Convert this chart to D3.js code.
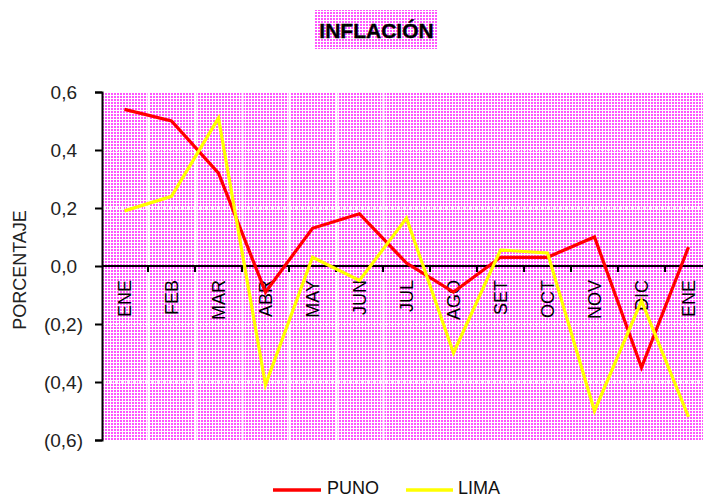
<!DOCTYPE html>
<html><head><meta charset="utf-8">
<script src="https://cdn.jsdelivr.net/npm/d3@7"></script>
<style>body{margin:0;background:#fff}svg{display:block}text{font-family:"Liberation Sans",Arial,sans-serif}</style>
</head><body>
<script>
const months = ["ENE","FEB","MAR","ABR","MAY","JUN","JUL","AGO","SET","OCT","NOV","DIC","ENE"];
const puno = [0.54,0.50,0.32,-0.09,0.13,0.18,0.01,-0.09,0.03,0.03,0.10,-0.35,0.065];
const lima = [0.19,0.24,0.51,-0.41,0.03,-0.05,0.165,-0.30,0.055,0.045,-0.50,-0.12,-0.52];
const yTicks = [-0.6,-0.4,-0.2,0,0.2,0.4,0.6];
const seriesNames = ["PUNO","LIMA"];
const seriesColors = ["#ff0000","#ffff00"];

(function(){
const W=703,H=500;
const svg=d3.select("body").append("svg").attr("width",W).attr("height",H);
const defs=svg.append("defs");
const pat=defs.append("pattern").attr("id","dots").attr("patternUnits","userSpaceOnUse").attr("width",3).attr("height",3);
pat.append("rect").attr("width",3).attr("height",3).attr("fill","#ffffff");
pat.append("rect").attr("width",2).attr("height",2).attr("fill","#ff55ff");

const pl=102, pt=92, pb=440;
const idx=months.map((d,i)=>i);
const x=d3.scaleBand().domain(idx).range([pl-1,pl-1+13*47]);
const y=d3.scaleLinear().domain([-0.6,0.6]).range([pb,pt]);

// title
svg.append("rect").attr("x",315).attr("y",10).attr("width",123).attr("height",39).attr("fill","url(#dots)");
svg.append("text").attr("x",376.5).attr("y",38).attr("text-anchor","middle").attr("font-size",21).attr("font-weight","bold").attr("fill","#000").attr("stroke","#000").attr("stroke-width",0.4).text("INFLACIÓN");

// plot area
svg.append("rect").attr("x",pl+1).attr("y",pt).attr("width",W-pl-1).attr("height",pb-pt).attr("fill","url(#dots)");

// white gridlines (horizontal)
svg.append("g").selectAll("line").data(yTicks.filter(v=>v!==0&&Math.abs(v)<0.6)).join("line")
  .attr("x1",pl+1).attr("x2",W).attr("y1",d=>y(d)).attr("y2",d=>y(d))
  .attr("stroke","#fff").attr("stroke-width",2).attr("stroke-dasharray","3,3").attr("opacity",0.85);
// white vertical separators
svg.append("g").selectAll("line").data(idx.slice(1,7)).join("line")
  .attr("x1",d=>x(d)+0.5).attr("x2",d=>x(d)+0.5).attr("y1",pt).attr("y2",pb)
  .attr("stroke","#fff").attr("stroke-width",2);

// y axis
const ya=svg.append("g").attr("transform",`translate(${pl},0)`)
  .call(d3.axisLeft(y).tickValues(yTicks).tickSize(7).tickPadding(0)
    .tickFormat(d=>{const s=Math.abs(d).toFixed(1).replace(".",",");return d<0?"("+s+")":s;}));
ya.select(".domain").attr("stroke","#000").attr("stroke-width",2);
ya.selectAll(".tick line").attr("stroke","#000").attr("stroke-width",2);
ya.selectAll(".tick text").attr("font-size",19).attr("fill","#222")
  .attr("font-family","Liberation Sans, Arial, sans-serif")
  .attr("x",d=>d<0?-19:-25).attr("dy","0.36em");

// zero axis with ticks
const xa=svg.append("g").attr("transform",`translate(0,${y(0)})`)
  .call(d3.axisBottom(x).tickSize(0).tickFormat(d=>months[d]));
xa.select(".domain").remove();
xa.append("line").attr("x1",pl).attr("x2",W).attr("y1",0).attr("y2",0).attr("stroke","#000").attr("stroke-width",2);
xa.selectAll(".bt").data(idx.slice(1)).join("line").attr("class","bt")
  .attr("x1",d=>x(d)).attr("x2",d=>x(d)).attr("y1",0).attr("y2",6).attr("stroke","#000").attr("stroke-width",2);
xa.selectAll(".tick text").attr("font-size",18).attr("fill","#000")
  .attr("font-family","Liberation Sans, Arial, sans-serif")
  .attr("text-anchor","end").attr("transform","rotate(-90)")
  .attr("x",-14).attr("y",0).attr("dy","0.36em");

// y title
svg.append("text").attr("transform","translate(26,270) rotate(-90)").attr("text-anchor","middle")
  .attr("font-size",18).attr("fill","#222").text("PORCENTAJE");

// lines
const line=d3.line().x((d,i)=>x(i)+x.bandwidth()/2).y(d=>y(d));
[puno,lima].forEach((s,k)=>{
  svg.append("path").datum(s).attr("d",line).attr("fill","none")
    .attr("stroke",seriesColors[k]).attr("stroke-width",3.2).attr("stroke-linejoin","miter");
});

// legend
const lg=[{x1:273,x2:321,tx:327},{x1:406,x2:453,tx:458}];
lg.forEach((p,k)=>{
  svg.append("line").attr("x1",p.x1).attr("x2",p.x2).attr("y1",490).attr("y2",490)
    .attr("stroke",seriesColors[k]).attr("stroke-width",3.5);
  svg.append("text").attr("x",p.tx).attr("y",494).attr("font-size",18).attr("fill","#111").text(seriesNames[k]);
});
})();
</script>
</body></html>
